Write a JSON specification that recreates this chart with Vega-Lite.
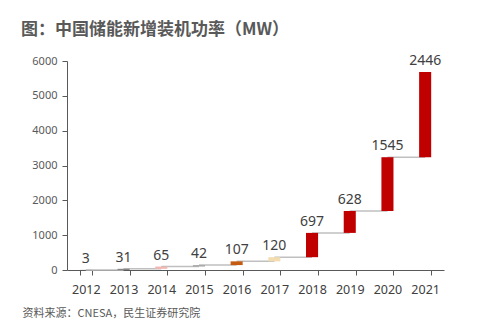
{
  "$schema": "https://vega.github.io/schema/vega-lite/v6.json",
  "autosize": {"type": "none"},
  "width": 377,
  "height": 209,
  "padding": {"left": 67, "top": 61, "right": 34, "bottom": 64},
  "background": "white",
  "config": {"view": {"stroke": null}, "font": "Noto Sans CJK SC"},
  "title": {
    "text": "图：中国储能新增装机功率（MW）",
    "anchor": "start",
    "frame": "group",
    "dx": -46,
    "offset": 15,
    "fontSize": 17,
    "fontWeight": "bold",
    "color": "#595959",
    "font": "Noto Sans CJK SC"
  },
  "data": {
    "values": [
      {"year": "2012", "next": "2013", "value": 3, "start": 0, "end": 3},
      {"year": "2013", "next": "2014", "value": 31, "start": 3, "end": 34},
      {"year": "2014", "next": "2015", "value": 65, "start": 34, "end": 99},
      {"year": "2015", "next": "2016", "value": 42, "start": 99, "end": 141},
      {"year": "2016", "next": "2017", "value": 107, "start": 141, "end": 248},
      {"year": "2017", "next": "2018", "value": 120, "start": 248, "end": 368},
      {"year": "2018", "next": "2019", "value": 697, "start": 368, "end": 1065},
      {"year": "2019", "next": "2020", "value": 628, "start": 1065, "end": 1693},
      {"year": "2020", "next": "2021", "value": 1545, "start": 1693, "end": 3238},
      {"year": "2021", "next": null, "value": 2446, "start": 3238, "end": 5684}
    ]
  },
  "encoding": {
    "x": {
      "field": "year",
      "type": "ordinal",
      "scale": {"paddingInner": 0.68, "paddingOuter": 0.34},
      "axis": {
        "labelAngle": 0,
        "labelFontSize": 12.5,
        "labelColor": "#404040",
        "labelFont": "Noto Sans",
        "labelPadding": 8,
        "tickSize": 5,
        "tickBand": "extent",
        "tickColor": "#595959",
        "domainColor": "#595959",
        "title": "资料来源：CNESA，民生证券研究院",
        "titleFont": "Noto Sans CJK SC",
        "titleFontSize": 11,
        "titleFontWeight": "normal",
        "titleColor": "#595959",
        "titleAnchor": "start",
        "titleAlign": "left",
        "titleBaseline": "middle",
        "titleX": -45,
        "titleY": 43
      }
    },
    "y": {
      "field": "end",
      "type": "quantitative",
      "scale": {"domain": [0, 6000]},
      "axis": {
        "values": [0, 1000, 2000, 3000, 4000, 5000, 6000],
        "format": "d",
        "labelOverlap": false,
        "grid": false,
        "title": null,
        "labelFontSize": 11,
        "labelColor": "#595959",
        "labelFont": "Noto Sans",
        "labelPadding": 5,
        "tickSize": 5,
        "tickColor": "#595959",
        "domainColor": "#595959"
      }
    }
  },
  "layer": [
    {
      "transform": [{"filter": "datum.next != null"}],
      "mark": {"type": "rule", "color": "#BFBFBF", "strokeWidth": 1.5},
      "encoding": {
        "x2": {"field": "next"}
      }
    },
    {
      "mark": {"type": "bar"},
      "encoding": {
        "y2": {"field": "start"},
        "color": {
          "field": "year",
          "type": "nominal",
          "legend": null,
          "scale": {
            "domain": ["2012", "2013", "2014", "2015", "2016", "2017", "2018", "2019", "2020", "2021"],
            "range": ["#7F7F7F", "#7F7F7F", "#F4B6B0", "#A6A6A6", "#C55A11", "#F2DCB0", "#C00000", "#C00000", "#C00000", "#C00000"]
          }
        }
      }
    },
    {
      "mark": {"type": "text", "dy": -4, "baseline": "bottom", "fontSize": 14, "color": "#404040", "font": "Noto Sans"},
      "encoding": {
        "text": {"field": "value", "type": "quantitative"}
      }
    }
  ]
}
